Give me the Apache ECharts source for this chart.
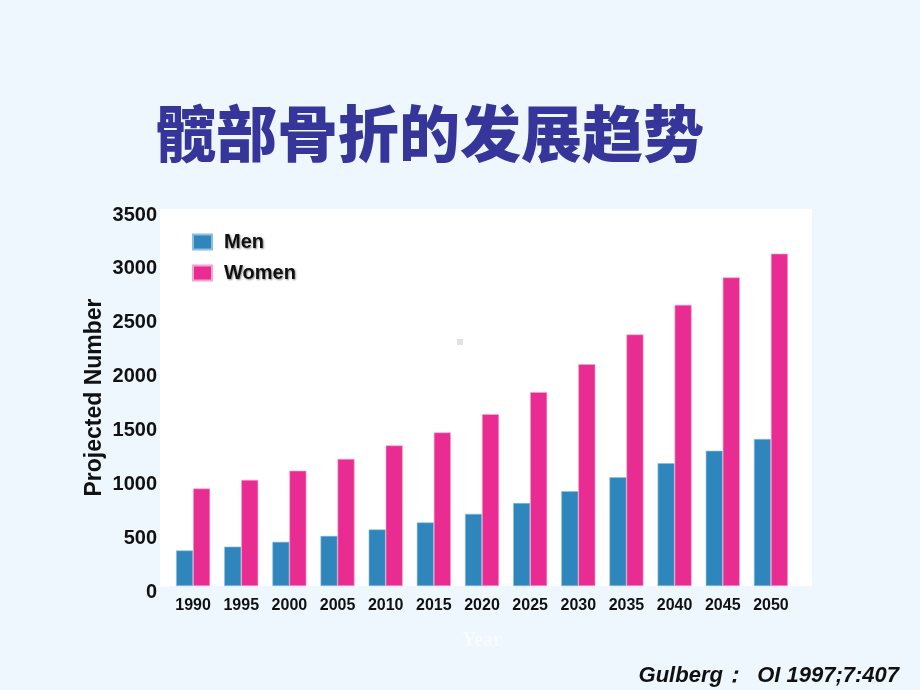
<!DOCTYPE html>
<html>
<head>
<meta charset="utf-8">
<script src="https://cdn.jsdelivr.net/npm/echarts@6/dist/echarts.min.js"></script>
<style>
  html, body { margin: 0; padding: 0; background: #eef6fe; }
  #chart { width: 920px; height: 690px; }
</style>
</head>
<body>
<div id="chart"></div>
<script>
// 数据
const years = ["1990", "1995", "2000", "2005", "2010", "2015", "2020", "2025", "2030", "2035", "2040", "2045", "2050"];
const men = [330, 365, 410, 465, 525, 590, 670, 770, 880, 1010, 1140, 1255, 1365];
const women = [905, 985, 1070, 1180, 1305, 1425, 1595, 1800, 2060, 2335, 2610, 2865, 3085];
const yTicks = { min: 0, max: 3500, step: 500 };

const chart = echarts.init(document.getElementById("chart"), null, { renderer: "canvas" });

const latin = "Liberation Sans, Arial, sans-serif";

const option = {
  backgroundColor: "#eef6fe",
  animation: false,
  title: {
    text: "髋部骨折的发展趋势",
    left: 150,
    top: 98,
    textStyle: {
      fontFamily: "Noto Sans CJK SC",
      fontWeight: 900,
      fontSize: 61,
      color: "#35359a",
    },
  },
  graphic: [
    {
      // 白色绘图区
      type: "rect",
      z: -10,
      shape: { x: 160, y: 209, width: 652, height: 377 },
      style: { fill: "#ffffff" },
    },
    {
      type: "rect",
      z: -5,
      shape: { x: 457, y: 339, width: 6, height: 6 },
      style: { fill: "#e2e2e2" },
    },
    {
      type: "text",
      x: 899,
      y: 676,
      style: {
        text: "Gulberg：  OI 1997;7:407",
        align: "right",
        verticalAlign: "middle",
        font: "italic bold 22px Liberation Sans",
        fill: "#111",
        shadowColor: "rgba(0,0,0,0.45)",
        shadowOffsetX: 1,
        shadowOffsetY: 1,
        shadowBlur: 2,
      },
    },
  ],
  legend: {
    orient: "vertical",
    left: 192,
    top: 232,
    padding: 0,
    itemWidth: 19,
    itemHeight: 15,
    itemGap: 11,
    icon: "rect",
    data: ["Men", "Women"],
    textStyle: {
      fontFamily: latin,
      fontWeight: "bold",
      fontSize: 20,
      color: "#111",
      padding: [4, 0, 0, 7],
      textShadowColor: "rgba(0,0,0,0.45)",
      textShadowOffsetX: 1,
      textShadowOffsetY: 1,
      textShadowBlur: 2,
    },
  },
  grid: {
    left: 169,
    right: 125,
    top: 209,
    bottom: 104,
  },
  xAxis: {
    type: "category",
    data: years,
    name: "Year",
    nameLocation: "middle",
    nameGap: 45,
    nameMoveOverlap: false,
    nameTextStyle: {
      fontFamily: "Liberation Serif, serif",
      fontWeight: "bold",
      fontSize: 20,
      color: "#f8fbff",
    },
    axisLine: { show: false },
    axisTick: { show: false },
    axisLabel: {
      fontFamily: latin,
      fontWeight: "bold",
      fontSize: 16,
      color: "#111",
      margin: 12,
    },
  },
  yAxis: {
    type: "value",
    min: yTicks.min,
    max: yTicks.max,
    interval: yTicks.step,
    name: "Projected Number",
    nameLocation: "middle",
    nameGap: 63,
    nameMoveOverlap: false,
    nameTextStyle: {
      fontFamily: latin,
      fontWeight: "bold",
      fontSize: 23,
      color: "#111",
    },
    axisLine: { show: false },
    axisTick: { show: true, length: 14, lineStyle: { color: "#ffffff" } },
    splitLine: { show: false },
    axisLabel: {
      fontFamily: latin,
      fontWeight: "bold",
      fontSize: 20,
      color: "#111",
      margin: 12,
      verticalAlign: "top",
      lineHeight: 12,
      formatter: (v) => String(v),
    },
  },
  series: [
    {
      name: "Men",
      type: "bar",
      data: men,
      barWidth: 17,
      barGap: "0%",
      itemStyle: { color: "#2f86bc", borderColor: "#8cbfdf", borderWidth: 0.6 },
    },
    {
      name: "Women",
      type: "bar",
      data: women,
      barWidth: 17,
      itemStyle: { color: "#e92c91", borderColor: "#f6a6cf", borderWidth: 0.6 },
    },
  ],
};

chart.setOption(option);
</script>
</body>
</html>
